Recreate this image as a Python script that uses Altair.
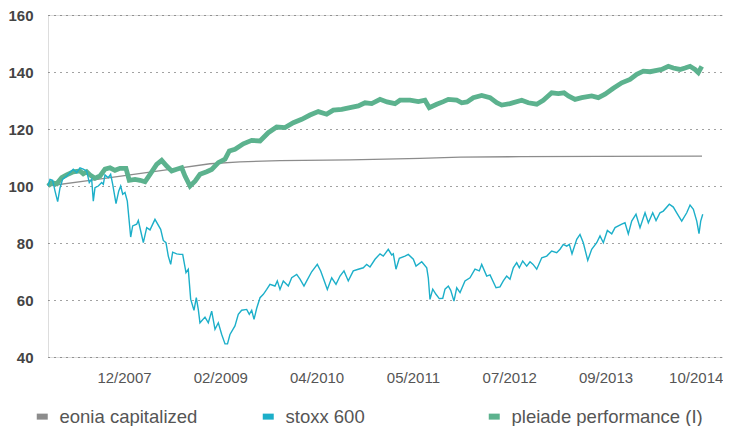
import altair as alt
import pandas as pd

series_names = ["eonia capitalized", "stoxx 600", "pleiade performance (I)"]
series_colors = ["#8c8c8c", "#1cafc9", "#5cb28e"]

# x values: months since 2007-01-01
eonia_months = [1.08, 7.03, 12.70, 18.36, 24.04, 28.29, 33.96, 43.88, 53.80, 59.50, 68.00, 79.30, 93.78]
eonia_values = [100.0, 102.0, 103.9, 105.8, 107.8, 108.5, 108.9, 109.2, 109.7, 110.1, 110.3, 110.4, 110.5]

stoxx_months = [
    1.08, 1.36, 1.74, 2.07, 2.45, 2.78, 3.16, 3.73, 4.66, 5.15, 5.61, 6.08, 6.56, 6.93, 7.27, 7.50,
    7.74, 8.21, 8.69, 8.92, 9.16, 9.62, 9.96, 10.25, 10.72, 11.10, 11.38, 11.67, 11.99, 12.32, 12.80,
    13.08, 13.65, 13.88, 14.22, 14.59, 15.07, 15.54, 16.24, 17.05, 17.42, 17.80, 18.13, 18.47, 18.75,
    19.32, 19.79, 20.17, 20.64, 20.96, 21.30, 21.77, 22.10, 22.38, 22.62, 23.33, 23.80, 24.28, 24.75,
    25.22, 25.70, 26.17, 26.52, 26.87, 27.58, 28.05, 28.53, 29.24, 29.61, 29.95, 30.28, 30.66, 31.13,
    31.60, 32.08, 32.54, 33.25, 33.58, 33.96, 34.43, 35.14, 35.62, 36.33, 36.80, 37.36, 37.75, 38.45,
    39.25, 39.73, 40.10, 40.67, 41.29, 41.90, 42.47, 43.03, 43.64, 44.35, 45.06, 45.77, 46.25, 46.72,
    47.43, 48.14, 48.60, 49.31, 49.79, 50.02, 50.40, 50.87, 51.68, 52.15, 52.86, 53.24, 54.05, 54.76,
    54.98, 55.22, 55.61, 56.07, 56.54, 57.03, 57.35, 57.82, 58.16, 58.62, 59.01, 59.48, 60.18, 60.89,
    61.60, 62.21, 62.55, 63.26, 63.73, 64.58, 65.14, 65.61, 66.09, 66.56, 67.03, 67.51, 67.88, 68.36,
    68.93, 69.40, 69.83, 70.35, 71.06, 71.77, 72.47, 73.18, 73.65, 74.12, 74.60, 74.97, 75.35, 76.02,
    76.48, 76.95, 77.58, 78.14, 78.85, 79.32, 79.79, 80.36, 80.98, 81.45, 82.40, 82.86, 83.33, 83.81,
    84.42, 84.99, 85.70, 86.17, 86.79, 87.26, 87.82, 88.29, 89.14, 89.71, 90.19, 90.90, 91.61, 92.08,
    92.55, 93.03, 93.35, 93.59, 93.88,
]
stoxx_values = [
    100.0, 102.3, 102.0, 98.3, 94.5, 99.3, 102.4, 103.5, 105.9, 104.7, 106.4, 105.9, 105.3, 101.2, 102.4, 94.7,
    99.4, 100.0, 101.2, 100.6, 103.9, 102.9, 104.1, 100.6, 93.8, 98.2, 100.0, 97.1, 97.7, 94.7, 82.1,
    86.0, 86.6, 87.9, 84.2, 80.1, 85.4, 84.6, 88.3, 84.8, 80.9, 80.1, 75.4, 72.5, 76.8,
    76.2, 76.0, 76.0, 69.6, 70.8, 60.3, 56.4, 60.8, 56.7, 52.0, 54.0, 52.0, 56.1, 49.7,
    52.0, 47.9, 44.6, 44.6, 47.9, 50.9, 55.0, 56.4, 56.7, 55.0, 56.4, 53.2, 57.1, 60.8,
    62.0, 63.7, 65.5, 64.9, 66.7, 63.7, 66.7, 64.9, 67.8, 69.0, 67.3, 64.9, 66.7, 69.9,
    72.5, 70.2, 67.6, 63.7, 67.8, 65.5, 68.4, 70.2, 66.7, 70.2, 70.8, 71.3, 72.5, 71.6,
    74.3, 76.2, 75.4, 77.8, 75.8, 76.2, 70.8, 74.6, 75.4, 76.0, 74.3, 71.9, 73.4, 71.3,
    67.8, 60.2, 63.8, 62.0, 60.5, 60.6, 63.8, 64.9, 63.4, 59.6, 64.3, 62.6, 66.7, 67.8,
    70.8, 70.2, 72.5, 68.4, 68.8, 64.3, 64.6, 66.7, 68.4, 67.3, 71.3, 73.1, 71.3, 73.7,
    71.9, 73.4, 72.5, 70.8, 74.8, 75.4, 77.2, 76.6, 77.8, 79.5, 78.9, 79.5, 76.2, 81.3,
    83.0, 80.1, 73.9, 77.8, 80.1, 82.5, 80.1, 84.4, 83.2, 85.4, 86.6, 87.1, 83.2, 87.7,
    90.1, 85.4, 90.6, 87.1, 90.6, 87.9, 90.6, 91.2, 93.6, 92.6, 90.6, 87.7, 90.6, 93.3,
    91.8, 87.7, 83.3, 87.7, 90.1,
]

pleiade_months = [
    1.08, 1.60, 2.31, 3.02, 3.73, 4.66, 5.61, 6.08, 6.56, 7.03, 7.74, 8.45, 9.16, 9.87, 10.57, 11.28,
    12.13, 12.60, 13.41, 14.12, 14.83, 15.54, 16.48, 17.19, 17.90, 18.61, 19.32, 20.03, 20.50, 21.21,
    21.92, 22.62, 23.57, 24.28, 25.22, 26.17, 26.78, 27.58, 28.76, 29.95, 31.13, 32.30, 33.49, 34.67,
    35.85, 37.04, 38.21, 39.39, 40.58, 41.52, 42.71, 43.88, 45.06, 46.01, 46.96, 48.14, 49.13, 50.26,
    50.97, 52.39, 53.57, 54.51, 55.12, 56.17, 57.11, 57.82, 59.01, 59.72, 60.47, 61.36, 62.55, 63.73,
    64.68, 65.39, 66.56, 68.22, 69.16, 70.35, 71.28, 72.47, 73.41, 74.22, 74.83, 75.78, 76.73, 78.14,
    79.08, 80.03, 81.21, 82.40, 83.57, 84.52, 85.46, 86.41, 87.36, 88.07, 89.00, 89.71, 90.66, 91.37,
    92.08, 92.78, 93.25, 93.74,
]
pleiade_values = [
    100.0, 101.2, 100.8, 102.9, 103.9, 105.0, 105.3, 104.3, 105.0, 103.9, 102.7, 103.5, 105.9, 106.4, 105.5, 106.2,
    106.2, 102.0, 102.3, 102.0, 101.5, 104.1, 107.6, 109.0, 107.0, 105.3, 105.9, 106.4, 103.5, 100.0,
    101.7, 104.1, 105.0, 105.8, 108.2, 109.4, 112.3, 112.9, 114.8, 116.0, 115.8, 118.7, 120.7, 120.5,
    122.2, 123.4, 124.9, 126.1, 125.2, 126.6, 126.9, 127.5, 128.1, 129.2, 128.9, 130.4, 129.5, 128.9,
    130.1, 130.1, 129.6, 130.1, 127.5, 128.7, 129.6, 130.4, 130.1, 129.2, 129.5, 131.0, 131.8, 131.0,
    129.2, 128.4, 128.9, 130.1, 129.2, 128.7, 130.1, 132.7, 132.4, 132.7, 131.6, 130.4, 131.0, 131.6,
    131.0, 132.2, 134.3, 136.2, 137.4, 139.2, 140.3, 140.1, 140.6, 140.9, 142.0, 141.4, 140.9, 141.4,
    142.0, 140.9, 139.8, 142.0,
]

tick_months = [11.85, 25.5, 39.15, 52.8, 66.45, 80.1, 93.75]
x_domain_months = [1.08, 96.75]
y_ticks = [40, 60, 80, 100, 120, 140, 160]

origin = pd.Timestamp("2007-01-01")


def to_ts(m):
    return origin + pd.to_timedelta(m * 30.4375, unit="D")


def to_iso(m):
    return to_ts(m).strftime("%Y-%m-%dT%H:%M:%SZ")


def to_ms(m):
    return int(to_ts(m).value // 10**6)


frames = []
for name, months, vals in [
    (series_names[0], eonia_months, eonia_values),
    (series_names[1], stoxx_months, stoxx_values),
    (series_names[2], pleiade_months, pleiade_values),
]:
    frames.append(pd.DataFrame({"date": [to_iso(m) for m in months], "value": vals, "series": name}))
df = pd.concat(frames, ignore_index=True)

FONT = "Liberation Sans"

x_enc = alt.X(
    "date:T",
    scale=alt.Scale(type="utc", domain=[to_ms(m) for m in x_domain_months], nice=False),
    axis=alt.Axis(
        values=[to_ms(m) for m in tick_months],
        format="%m/%Y",
        title=None,
        grid=False,
        domain=False,
        ticks=False,
        labelFontSize=15,
        labelColor="#555555",
        labelFont=FONT,
        labelPadding=13,
        labelFlush=25,
        labelFlushOffset=21,
        labelOverlap=False,
    ),
)
y_enc = alt.Y(
    "value:Q",
    scale=alt.Scale(domain=[40, 160], nice=False, zero=False),
    axis=alt.Axis(
        values=y_ticks,
        title=None,
        grid=True,
        gridDash=[1, 5],
        gridColor="#444444",
        gridWidth=1,
        domain=False,
        ticks=False,
        labelFontSize=15,
        labelFontWeight="bold",
        labelColor="#444444",
        labelFont=FONT,
        labelPadding=15,
    ),
)
color_enc = alt.Color(
    "series:N",
    scale=alt.Scale(domain=series_names, range=series_colors),
    legend=alt.Legend(
        title=None,
        orient="none",
        legendX=-15,
        legendY=392,
        direction="horizontal",
        columns=3,
        gridAlign="all",
        columnPadding=-1,
        symbolType="stroke",
        symbolStrokeWidth=6,
        symbolSize=121,
        symbolOpacity=1,
        labelFontSize=18.5,
        labelColor="#555555",
        labelFont=FONT,
        labelOffset=8,
        labelLimit=400,
        padding=0,
    ),
)

base = alt.Chart(df).encode(x=x_enc, y=y_enc, color=color_enc)

eonia_layer = base.transform_filter(alt.datum.series == series_names[0]).mark_line(strokeWidth=1.3)
pleiade_layer = base.transform_filter(alt.datum.series == series_names[2]).mark_line(strokeWidth=4.8)
stoxx_layer = base.transform_filter(alt.datum.series == series_names[1]).mark_line(strokeWidth=1.4)

chart = (
    alt.layer(eonia_layer, pleiade_layer, stoxx_layer)
    .properties(
        width=675,
        height=342,
        autosize=alt.AutoSizeParams(type="none"),
        padding={"left": 40, "top": 7, "right": 0, "bottom": 69},
    )
    .configure_view(stroke=None)
    .configure(background="white")
)

chart.save("out.html", embed_options={"renderer": "svg", "actions": False})
